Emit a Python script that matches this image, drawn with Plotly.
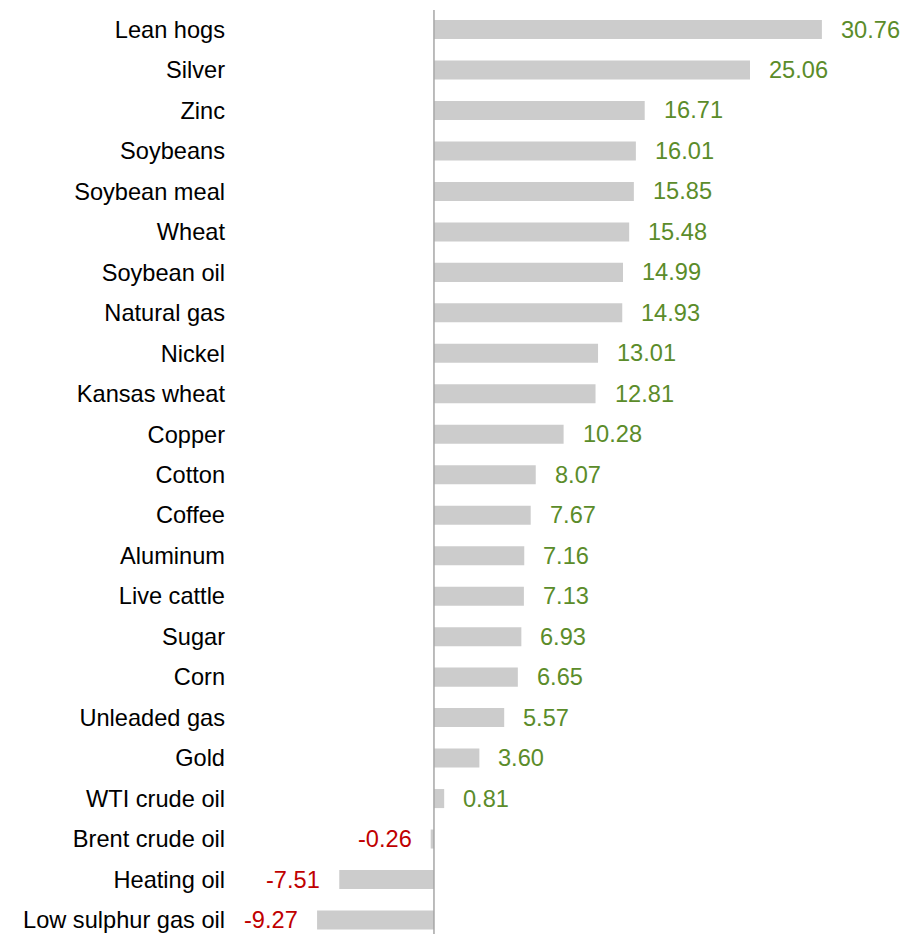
import plotly.graph_objects as go

categories = ["Lean hogs", "Silver", "Zinc", "Soybeans", "Soybean meal", "Wheat",
              "Soybean oil", "Natural gas", "Nickel", "Kansas wheat", "Copper",
              "Cotton", "Coffee", "Aluminum", "Live cattle", "Sugar", "Corn",
              "Unleaded gas", "Gold", "WTI crude oil", "Brent crude oil",
              "Heating oil", "Low sulphur gas oil"]
values = [30.76, 25.06, 16.71, 16.01, 15.85, 15.48, 14.99, 14.93, 13.01, 12.81,
          10.28, 8.07, 7.67, 7.16, 7.13, 6.93, 6.65, 5.57, 3.60, 0.81, -0.26,
          -7.51, -9.27]

POS = "#5b8c2a"
NEG = "#c00000"
FONT = "Liberation Sans, Arial, sans-serif"
FS = 23.6

fig = go.Figure(go.Bar(
    x=values, y=categories, orientation="h",
    marker=dict(color="#cccccc", line=dict(width=0)),
    width=0.47, hoverinfo="skip",
))

for c, v in zip(categories, values):
    fig.add_annotation(
        x=v, y=c, xref="x", yref="y",
        text=f"{v:.2f}", showarrow=False,
        xanchor="left" if v >= 0 else "right",
        xshift=17 if v >= 0 else -17,
        font=dict(family=FONT, size=FS, color=POS if v >= 0 else NEG),
    )

fig.add_shape(type="line", xref="x", yref="paper", x0=0, x1=0, y0=0, y1=1,
              line=dict(color="#a6a6a6", width=1.5), layer="above")

fig.update_layout(
    width=910, height=926,
    margin=dict(l=218, r=0, t=2, b=0, autoexpand=False),
    plot_bgcolor="white", paper_bgcolor="white",
    showlegend=False,
    font=dict(family=FONT, size=FS, color="#000000"),
    xaxis=dict(range=[-16.49, 38.38], showgrid=False, zeroline=False,
               showticklabels=False, showline=False, fixedrange=True),
    yaxis=dict(type="category", range=[22.346, -0.482], showgrid=False,
               zeroline=False, showline=False, ticks="", automargin=False,
               tickfont=dict(family=FONT, size=FS, color="#000000"),
               fixedrange=True),
)

fig.write_html("out.html")
